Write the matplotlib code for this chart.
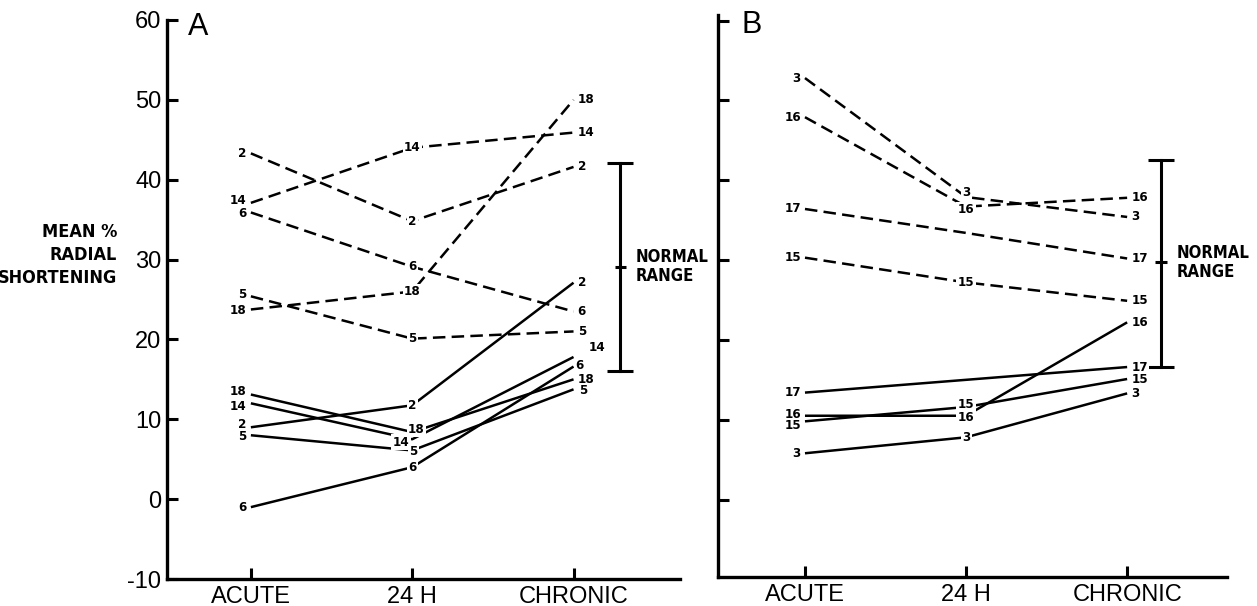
import numpy as np
import matplotlib
matplotlib.use('Agg')
import matplotlib.pyplot as plt

# time points
times = ['ACUTE', '24 H', 'CHRONIC']

# panel A - dashed patients
a_dashed_ids = ['2', '14', '6', '18', '5']
a_dashed = [[43.3, 34.8, 41.6],
            [37.1, 44.0, 45.9],
            [35.9, 29.1, 23.5],
            [23.75, 26.0, 50.0],
            [25.4, 20.1, 21.0]]
# panel A - solid patients
a_solid_ids = ['18', '14', '2', '5', '6']
a_solid = [[13.1, 8.4, 15.0],
           [12.0, 7.5, 17.8],
           [9.0, 11.75, 27.1],
           [8.0, 6.1, 13.75],
           [-1.0, 4.0, 16.6]]
a_normal = [16.1, 29.1, 42.1]

# panel B - dashed patients
b_dashed_ids = ['3', '16', '17', '15']
b_dashed = [[52.8, 37.9, 35.4],
            [47.9, 36.7, 37.8],
            [36.4, 33.4, 30.2],
            [30.3, 27.2, 24.9]]
# panel B - solid patients
b_solid_ids = ['17', '16', '15', '3']
b_solid = [[13.4, 15.0, 16.6],
           [10.5, 10.5, 22.2],
           [9.8, 11.6, 15.1],
           [5.8, 7.8, 13.3]]
b_normal = [16.6, 29.7, 42.5]

# patients with no number written at 24 H
b_no_mid = ['17']

plt.rcParams['font.family'] = ['Liberation Sans', 'DejaVu Sans']
plt.rcParams['axes.unicode_minus'] = False
COND = dict(family='DejaVu Sans', fontstretch='condensed', fontweight='bold')

W, H = 1257, 606
fig = plt.figure(figsize=(W / 100, H / 100), dpi=100)
ax_a = fig.add_axes([167 / W, 27 / H, 513 / W, 559 / H])
ax_b = fig.add_axes([718 / W, 29 / H, 509 / W, 562 / H])

# label nudges (points) for crowded spots: (panel, style, id, time index)
nudges = {
    ('A', 's', '14', 1): (-8, -2),
    ('A', 's', '18', 1): (3, 2),
    ('A', 's', '5', 1): (1, -1),
    ('A', 's', '14', 2): (8, 7),
    ('A', 's', '6', 2): (-2, 1),
    ('A', 's', '5', 2): (1, -1),
    ('A', 's', '2', 0): (0, 2),
    ('A', 's', '5', 0): (0, -1),
    ('A', 's', '18', 0): (0, 2),
    ('A', 's', '14', 0): (0, -2.5),
    ('A', 'd', '14', 0): (0, 1.5),
    ('A', 'd', '6', 0): (0, -1),
    ('A', 'd', '5', 0): (0, 1),
    ('A', 'd', '18', 0): (0, -1),
    ('B', 's', '15', 0): (0, -3),
    ('B', 's', '16', 0): (0, 1),
    ('B', 's', '15', 1): (0, 2),
    ('B', 's', '16', 1): (0, -1.5),
    ('B', 'd', '3', 1): (0, 3),
    ('B', 'd', '16', 1): (0, -2),
}


def draw_series(ax, panel, style, ids, values, no_mid):
    x = np.arange(len(times))
    ls = (0, (5, 2.5)) if style == 'd' else '-'
    for pid, vals in zip(ids, values):
        ax.plot(x, vals, color='black', lw=1.8, ls=ls,
                solid_capstyle='butt', dash_capstyle='butt', zorder=2)
        for i, v in enumerate(vals):
            if i == 1 and pid in no_mid:
                continue
            dx, dy = nudges.get((panel, style, pid, i), (0, 0))
            if i == 0:
                ha, off = 'right', -3
            elif i == 2:
                ha, off = 'left', 3
            else:
                ha, off = 'center', 0
            ax.annotate(pid, (x[i], v), xytext=(off + dx, dy),
                        textcoords='offset points', ha=ha, va='center',
                        fontsize=9.5, zorder=4, **COND,
                        bbox=dict(boxstyle='square,pad=0.1', fc='white',
                                  ec='none'))


def draw_panel(ax, panel, dashed_ids, dashed, solid_ids, solid, normal,
               normal_x, xlim, ylim, show_labels, no_mid):
    draw_series(ax, panel, 'd', dashed_ids, dashed, no_mid)
    draw_series(ax, panel, 's', solid_ids, solid, no_mid)

    lo, mid, hi = normal
    ax.plot([normal_x, normal_x], [lo, hi], color='black', lw=2.2)
    ax.hlines([lo, hi], normal_x - 0.08, normal_x + 0.08, color='black', lw=2.2)
    ax.hlines([mid], normal_x - 0.035, normal_x + 0.035, color='black', lw=2.2)
    ax.text(normal_x + 0.095, mid, 'NORMAL\nRANGE', ha='left', va='center',
            fontsize=12, linespacing=1.1, **COND)

    ax.set_xlim(*xlim)
    ax.set_ylim(*ylim)
    ax.set_xticks(range(len(times)))
    ax.set_xticklabels(times)
    ax.set_yticks(np.arange(-10, 61, 10) if show_labels else np.arange(0, 61, 10))
    if not show_labels:
        ax.set_yticklabels([])
    ax.tick_params(direction='in', length=8, width=2.2, labelsize=17, pad=4)
    ax.tick_params(axis='x', pad=5)
    for s in ['top', 'right']:
        ax.spines[s].set_visible(False)
    for s in ['left', 'bottom']:
        ax.spines[s].set_linewidth(2.4)
    ax.patch.set_alpha(0)


draw_panel(ax_a, 'A', a_dashed_ids, a_dashed, a_solid_ids, a_solid, a_normal,
           2.29, (-0.52, 2.66), (-10, 60), True, [])
draw_panel(ax_b, 'B', b_dashed_ids, b_dashed, b_solid_ids, b_solid, b_normal,
           2.21, (-0.54, 2.62), (-9.7, 60.7), False, b_no_mid)

fig.text(188 / W, 1 - 27 / H, 'A', ha='left', va='center', fontsize=22)
fig.text(742 / W, 1 - 25 / H, 'B', ha='left', va='center', fontsize=22)
fig.text(117 / W, 1 - 255 / H, 'MEAN %\nRADIAL\nSHORTENING', ha='right',
         va='center', multialignment='right', fontsize=13, linespacing=1.35,
         **COND)

fig.savefig('out.png', dpi=100)
